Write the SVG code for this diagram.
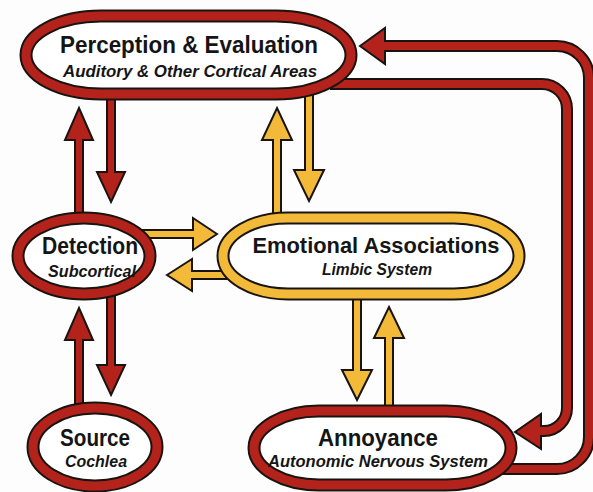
<svg xmlns="http://www.w3.org/2000/svg" width="593" height="492" viewBox="0 0 593 492">
<style>
.bk{fill:#fff;stroke:#1a1410;stroke-width:13}
.rd{fill:none;stroke:#b3231b;stroke-width:9}
.yl{fill:none;stroke:#f3ba3a;stroke-width:9}
.ar{fill:#b3231b;stroke:#1a1410;stroke-width:2;stroke-linejoin:miter}
.ay{fill:#f3ba3a;stroke:#1a1410;stroke-width:2;stroke-linejoin:miter}
.cb{fill:none;stroke:#1a1410;stroke-width:12}
.cr{fill:none;stroke:#b3231b;stroke-width:8}
.t{font-family:"Liberation Sans",Arial,sans-serif;font-weight:bold;fill:#151515;text-anchor:middle}
.s{font-style:italic;font-size:16px}
</style>
<rect width="593" height="492" fill="#fdfdfd"/>
<g id="connectors">
<path class="cb" d="M500 469 H557 A32 32 0 0 0 589 437 V78 A32 32 0 0 0 557 46 H383"/>
<polygon class="ar" points="360,46 385,28 385,64"/>
<path class="cr" d="M500 469 H557 A32 32 0 0 0 589 437 V78 A32 32 0 0 0 557 46 H380"/>
<path class="cb" d="M330 84 H542 A25 25 0 0 1 567 109 V408 A23 23 0 0 1 544 431 H539"/>
<polygon class="ar" points="515,432 541,414 541,449"/>
<path class="cr" d="M330 84 H542 A25 25 0 0 1 567 109 V408 A23 23 0 0 1 544 431 H536"/>
<polygon class="ar" points="79,108 93,140 83,140 83,216 75,216 75,140 65,140"/>
<polygon class="ar" points="111,202 125,172 115,172 115,95 107,95 107,172 97,172"/>
<polygon class="ar" points="79,308 93,340 83,340 83,410 75,410 75,340 65,340"/>
<polygon class="ar" points="111,395 125,365 115,365 115,296 107,296 107,365 97,365"/>
<polygon class="ay" points="277,108 292,140 281,140 281,216 273,216 273,140 262,140"/>
<polygon class="ay" points="309,201 324,170 313,170 313,95 305,95 305,170 294,170"/>
<polygon class="ay" points="217,234 193,218 193,230 140,230 140,238 193,238 193,250"/>
<polygon class="ay" points="167,275 192,259 192,271 232,271 232,279 192,279 192,291"/>
<polygon class="ay" points="357,400 372,370 361,370 361,295 353,295 353,370 342,370"/>
<polygon class="ay" points="389,307 404,338 393,338 393,412 385,412 385,338 374,338"/>
</g>
<g id="perception">
<rect class="bk" x="26" y="16" width="325" height="78" rx="75" ry="39"/>
<rect class="rd" x="26" y="16" width="325" height="78" rx="75" ry="39"/>
<text class="t" x="189" y="53" font-size="24" textLength="258" lengthAdjust="spacingAndGlyphs">Perception &amp; Evaluation</text>
<text class="t s" x="190" y="77" textLength="254" lengthAdjust="spacingAndGlyphs">Auditory &amp; Other Cortical Areas</text>
</g>
<g id="detection">
<ellipse class="bk" cx="84" cy="256" rx="66" ry="38"/>
<ellipse class="rd" cx="84" cy="256" rx="66" ry="38"/>
<text class="t" x="90" y="254" font-size="23" textLength="96" lengthAdjust="spacingAndGlyphs">Detection</text>
<text class="t s" x="92" y="277" textLength="88" lengthAdjust="spacingAndGlyphs">Subcortical</text>
</g>
<g id="emotional">
<rect class="bk" x="223" y="218" width="296" height="76" rx="65" ry="38"/>
<rect class="yl" x="223" y="218" width="296" height="76" rx="65" ry="38"/>
<text class="t" x="376" y="253" font-size="22" textLength="247" lengthAdjust="spacingAndGlyphs">Emotional Associations</text>
<text class="t s" x="377" y="275" textLength="110" lengthAdjust="spacingAndGlyphs">Limbic System</text>
</g>
<g id="source">
<ellipse class="bk" cx="95" cy="447" rx="62" ry="39"/>
<ellipse class="rd" cx="95" cy="447" rx="62" ry="39"/>
<text class="t" x="95" y="446" font-size="24" textLength="70" lengthAdjust="spacingAndGlyphs">Source</text>
<text class="t s" x="96" y="467" textLength="62" lengthAdjust="spacingAndGlyphs">Cochlea</text>
</g>
<g id="annoyance">
<rect class="bk" x="254" y="411" width="257" height="74" rx="65" ry="37"/>
<rect class="rd" x="254" y="411" width="257" height="74" rx="65" ry="37"/>
<text class="t" x="378" y="446" font-size="24" textLength="120" lengthAdjust="spacingAndGlyphs">Annoyance</text>
<text class="t s" x="378" y="467" textLength="220" lengthAdjust="spacingAndGlyphs">Autonomic Nervous System</text>
</g>
</svg>
